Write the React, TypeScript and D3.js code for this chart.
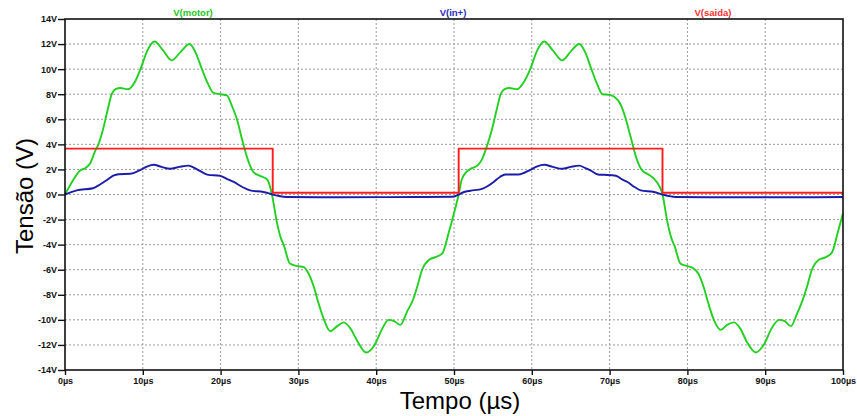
import React, { useEffect, useRef } from 'react'
import * as d3 from 'd3'

// V(motor): tempo (µs) e tensão (V)
const motorT = [
  0, 1.0, 1.9, 2.6, 3.2, 3.9, 4.3, 4.85, 5.5, 6.0, 6.5, 7.1, 8.1, 9.0, 9.7, 10.6, 11.5, 12.6, 13.7, 14.9,
  16.0, 16.8, 17.6, 18.4, 19.1, 20.0, 20.8, 21.5, 22.1, 22.8, 23.6, 24.2, 25.0, 26.0, 26.6, 27.2, 27.7, 28.1,
  28.9, 29.8, 30.7, 31.3, 32.0, 32.6, 33.3, 34.1, 35.0, 35.8, 36.7, 37.5, 38.7, 39.8, 40.7, 41.6, 42.3, 43.1,
  44.0, 44.8, 45.3, 45.9, 46.8, 47.6, 48.5, 49.3, 50.0, 50.6,
  51.0, 51.6, 52.3, 53.0, 53.6, 54.2, 54.8, 55.5, 56.0, 56.5, 57.1, 58.1, 59.0, 59.8, 60.7, 61.6, 62.7, 63.9,
  65.0, 66.1, 66.9, 67.6, 68.4, 69.1, 70.0, 70.6, 71.4, 72.0, 72.7, 73.5, 74.2, 75.0, 75.8, 76.8, 77.4, 77.9,
  78.4, 79.1, 79.9, 80.8, 81.4, 82.1, 82.7, 83.4, 84.3, 85.1, 86.0, 86.8, 87.6, 88.8, 89.9, 90.8, 91.8, 92.5,
  93.3, 94.1, 94.8, 95.4, 96.0, 96.9, 97.8, 98.6, 99.3, 100
]
const motorV = [
  0, 1.1, 1.9, 2.1, 2.45, 3.5, 4.0, 5.1, 6.8, 8.0, 8.4, 8.5, 8.4, 9.0, 10.0, 11.5, 12.2, 11.5, 10.7, 11.4,
  12.0, 11.3, 10.0, 8.8, 8.1, 8.0, 7.9, 7.0, 6.0, 4.3, 2.6, 1.8, 1.5, 1.2, 0, -2.1, -3.4, -4.0,
  -5.5, -5.7, -5.8, -6.3, -7.4, -8.7, -10.0, -10.9, -10.5, -10.2, -10.7, -11.6, -12.6, -12.0, -10.8, -10.0, -10.1, -10.4,
  -9.3, -8.3, -7.3, -6.0, -5.2, -5.0, -4.7, -3.1, -1.5, 0,
  1.2, 1.8, 2.1, 2.3, 2.8, 3.8, 5.0, 6.8, 8.0, 8.4, 8.5, 8.4, 9.0, 10.0, 11.5, 12.2, 11.5, 10.7,
  11.4, 12.0, 11.3, 10.1, 8.8, 8.0, 7.95, 7.8, 7.2, 6.2, 4.6, 2.8, 1.9, 1.6, 1.2, 0, -2.1, -3.4,
  -4.2, -5.5, -5.7, -5.9, -6.3, -7.4, -8.7, -10.0, -10.8, -10.4, -10.2, -10.7, -11.7, -12.6, -11.9, -10.7, -10.0, -10.1,
  -10.5, -9.5, -8.45, -7.3, -6.0, -5.2, -5.0, -4.6, -3.1, -1.5
]

// V(in+)
const inT = [
  0, 1.5, 3.6, 4.5, 5.4, 6.2, 6.9, 8.4, 9.7, 10.6, 11.4, 12.4, 13.5, 14.7, 15.9, 16.7, 17.4, 18.4, 19.9,
  20.8, 21.7, 22.8, 23.8, 25.5, 26.7, 27.5, 28.5, 35, 45, 49.8, 50.6,
  51.3, 52.1, 53.6, 54.4, 55.1, 55.9, 56.6, 58.3, 59.8, 60.7, 61.6, 62.7, 63.9, 65.0, 66.1, 66.9, 67.6,
  68.5, 69.3, 70.8, 71.6, 72.3, 73.2, 74.0, 75.7, 76.8, 77.6, 78.5, 85, 95, 100
]
const inV = [
  0, 0.33, 0.5, 0.8, 1.15, 1.5, 1.62, 1.65, 1.97, 2.25, 2.37, 2.2, 2.05, 2.2, 2.3, 2.1, 1.86, 1.57, 1.5,
  1.25, 1.0, 0.6, 0.33, 0.2, 0, -0.12, -0.2, -0.22, -0.2, -0.18, 0,
  0.2, 0.3, 0.45, 0.7, 1.0, 1.4, 1.6, 1.6, 1.97, 2.25, 2.37, 2.2, 2.05, 2.2, 2.3, 2.1, 1.9,
  1.6, 1.57, 1.5, 1.2, 1.0, 0.6, 0.33, 0.2, 0, -0.12, -0.2, -0.22, -0.22, -0.2
]

// V(saida) (degraus)
const saidaT = [0, 26.7, 50.6, 76.8, 100]
const saidaV = [3.66, 0.14, 3.66, 0.14, 0.14]

const timeTicks = [0, 10, 20, 30, 40, 50, 60, 70, 80, 90, 100]
const voltTicks = [-14, -12, -10, -8, -6, -4, -2, 0, 2, 4, 6, 8, 10, 12, 14]

const series = [
  { name: 'V(motor)', t: motorT, v: motorV, color: '#22d022', label: '#22c822', labelX: 193 },
  { name: 'V(in+)', t: inT, v: inV, color: '#1c1caa', label: '#2a2ab8', labelX: 453 },
  { name: 'V(saida)', t: saidaT, v: saidaV, color: '#ff1c1c', label: '#ff3030', labelX: 713 }
]

const FONT = '"Liberation Sans", Arial, sans-serif'

const Chart = () => {
  const ref = useRef(null)

  useEffect(() => {
    const width = 857
    const height = 416
    const margin = { top: 19, right: 14, bottom: 46, left: 65 }

    const svg = d3.select(ref.current)
      .append('svg')
      .attr('width', width)
      .attr('height', height)
      .style('position', 'absolute')
      .style('left', 0)
      .style('top', 0)
      .style('background', '#fff')

    const x = d3.scaleLinear().domain([0, 100]).range([margin.left, width - margin.right])
    const y = d3.scaleLinear().domain([-14, 14]).range([height - margin.bottom, margin.top])

    // grid
    svg.append('g')
      .selectAll('line')
      .data(timeTicks.slice(1, -1))
      .join('line')
      .attr('x1', d => x(d)).attr('x2', d => x(d))
      .attr('y1', y(14)).attr('y2', y(-14))
      .attr('stroke', '#9a9a9a')
      .attr('stroke-dasharray', '2,2')

    svg.append('g')
      .selectAll('line')
      .data(voltTicks.slice(1, -1))
      .join('line')
      .attr('x1', x(0)).attr('x2', x(100))
      .attr('y1', d => y(d)).attr('y2', d => y(d))
      .attr('stroke', '#9a9a9a')
      .attr('stroke-dasharray', '2,2')

    // curves
    series.forEach(s => {
      const pts = s.t.map((t, i) => [t, s.v[i]])
      const line = d3.line()
        .x(d => x(d[0]))
        .y(d => y(d[1]))
        .curve(s.name === 'V(saida)' ? d3.curveStepAfter : d3.curveMonotoneX)
      svg.append('path')
        .datum(pts)
        .attr('d', line)
        .attr('fill', 'none')
        .attr('stroke', s.color)
        .attr('stroke-width', 1.9)
        .attr('stroke-linejoin', 'round')

      svg.append('text')
        .attr('x', s.labelX)
        .attr('y', 15.5)
        .attr('text-anchor', 'middle')
        .attr('font-family', FONT)
        .attr('font-weight', 'bold')
        .attr('font-size', 9.5)
        .attr('fill', s.label)
        .text(s.name)
    })

    // frame
    svg.append('rect')
      .attr('x', x(0)).attr('y', y(14))
      .attr('width', x(100) - x(0)).attr('height', y(-14) - y(14))
      .attr('fill', 'none')
      .attr('stroke', '#111')
      .attr('stroke-width', 1.6)

    // axes
    const yAxis = d3.axisLeft(y)
      .tickValues(voltTicks)
      .tickFormat(d => d + 'V')
      .tickSize(7)
      .tickSizeOuter(0)
      .tickPadding(1)
    const gy = svg.append('g')
      .attr('transform', 'translate(' + x(0) + ',0)')
      .call(yAxis)
    gy.select('.domain').remove()

    const xAxis = d3.axisBottom(x)
      .tickValues(timeTicks)
      .tickFormat(d => d + 'µs')
      .tickSize(5)
      .tickSizeOuter(0)
      .tickPadding(3)
    const gx = svg.append('g')
      .attr('transform', 'translate(0,' + y(-14) + ')')
      .call(xAxis)
    gx.select('.domain').remove()

    svg.selectAll('.tick line').attr('stroke', '#111').attr('stroke-width', 1.4)
    svg.selectAll('.tick text')
      .attr('font-family', FONT)
      .attr('font-weight', 'bold')
      .attr('font-size', 9)
      .attr('fill', '#111')

    // axis titles
    svg.append('text')
      .attr('x', 460)
      .attr('y', 409)
      .attr('text-anchor', 'middle')
      .attr('font-family', FONT)
      .attr('font-size', 24)
      .attr('fill', '#000')
      .text('Tempo (µs)')

    svg.append('text')
      .attr('transform', 'translate(33,196) rotate(-90)')
      .attr('text-anchor', 'middle')
      .attr('font-family', FONT)
      .attr('font-size', 24)
      .attr('fill', '#000')
      .text('Tensão (V)')

    return () => {
      d3.select(ref.current).select('svg').remove()
    }
  }, [])

  return <div ref={ref}></div>
}

export default function App() {
  return <Chart />
}
